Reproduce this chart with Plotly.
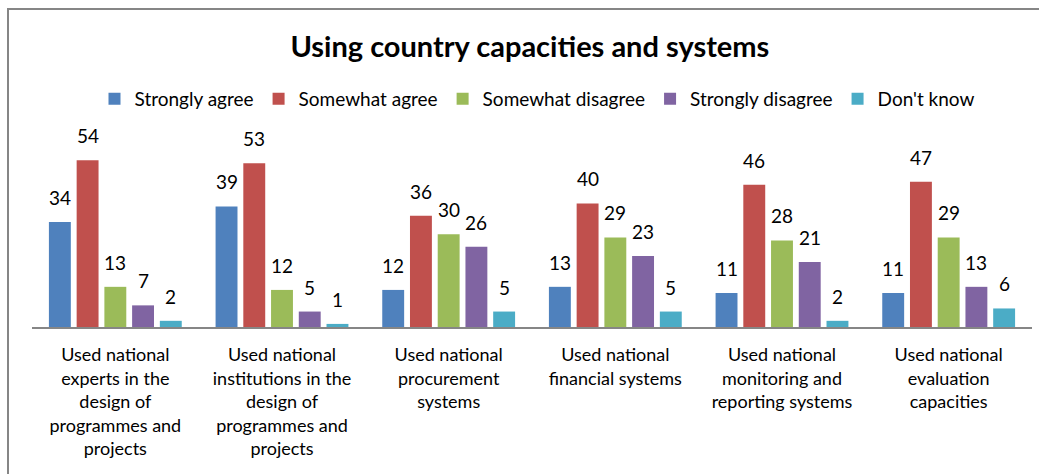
import plotly.graph_objects as go

categories = [
    "Used national<br>experts in the<br>design of<br>programmes and<br>projects",
    "Used national<br>institutions in the<br>design of<br>programmes and<br>projects",
    "Used national<br>procurement<br>systems",
    "Used national<br>financial systems",
    "Used national<br>monitoring and<br>reporting systems",
    "Used national<br>evaluation<br>capacities",
]
series_names = ["Strongly agree", "Somewhat agree", "Somewhat disagree",
                "Strongly disagree", "Don't know"]
strongly_agree = [34, 39, 12, 13, 11, 11]
somewhat_agree = [54, 53, 36, 40, 46, 47]
somewhat_disagree = [13, 12, 30, 29, 28, 29]
strongly_disagree = [7, 5, 26, 23, 21, 13]
dont_know = [2, 1, 5, 5, 2, 6]
series_values = [strongly_agree, somewhat_agree, somewhat_disagree,
                 strongly_disagree, dont_know]
colors = ["#4F81BD", "#C0504D", "#9BBB59", "#8064A2", "#4BACC6"]

FONT = "Lato"
BARGAP = 0.168
GROUPGAP = 0.21

fig = go.Figure()
for name, vals, col in zip(series_names, series_values, colors):
    fig.add_trace(go.Bar(
        x=list(range(len(categories))), y=vals, name=name,
        marker=dict(color=col, line=dict(width=0)),
    ))

# value labels above each bar, offset within the group like the bars
n = len(series_names)
slot = (1 - BARGAP) / n
annotations = []
for i, vals in enumerate(series_values):
    for j, v in enumerate(vals):
        annotations.append(dict(
            x=j + (i - (n - 1) / 2) * slot, y=v, xref="x", yref="y",
            text=str(v), showarrow=False, yanchor="bottom", yshift=11,
            font=dict(family=FONT, size=19, color="#000000"),
        ))

L, R, T, B = 32, 7, 110, 147
W, H = 1039, 474
plot_h = H - T - B
plot_w = W - L - R

fig.update_layout(
    width=W, height=H,
    margin=dict(l=L, r=R, t=T, b=B),
    paper_bgcolor="white", plot_bgcolor="white",
    barmode="group", bargap=BARGAP, bargroupgap=GROUPGAP,
    title=dict(text="<b>Using country capacities and systems</b>",
               x=0.51, xanchor="center", y=1 - 47 / H, yanchor="middle",
               font=dict(family=FONT, size=29, color="#000000")),
    legend=dict(orientation="h", x=0.505, xanchor="center",
                y=(plot_h + T - 99) / plot_h, yanchor="middle",
                font=dict(family=FONT, size=19, color="#000000"),
                itemwidth=30, bgcolor="rgba(0,0,0,0)"),
    xaxis=dict(tickmode="array", tickvals=list(range(len(categories))),
               ticktext=categories, range=[-0.5, len(categories) - 0.5],
               showline=True, linecolor="#868686", linewidth=1.5,
               ticks="outside", ticklen=11, tickcolor="rgba(0,0,0,0)",
               tickfont=dict(family=FONT, size=18, color="#000000"),
               showgrid=False, zeroline=False),
    yaxis=dict(range=[0, plot_h / 3.09], visible=False, showgrid=False),
    annotations=annotations,
    shapes=[dict(type="rect", xref="paper", yref="paper",
                 x0=(8 - L) / plot_w, x1=1.05,
                 y0=-1.0, y1=(H - B - 9) / plot_h,
                 line=dict(color="#868686", width=2), layer="below")],
)

fig.write_html("out.html")
